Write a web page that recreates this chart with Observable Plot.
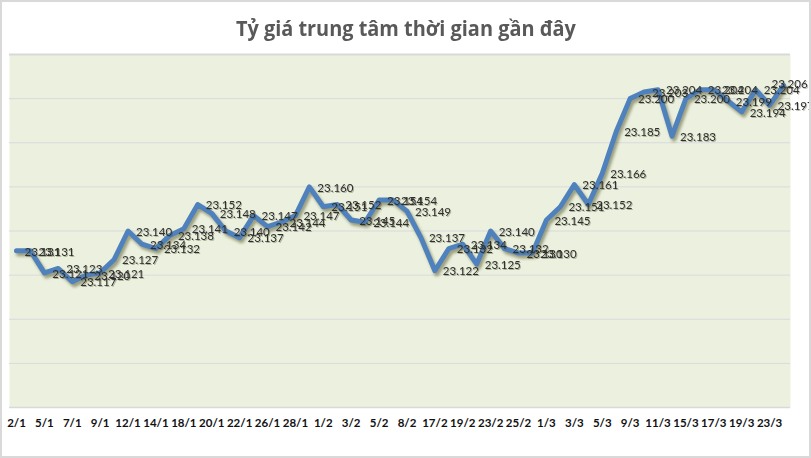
<!DOCTYPE html>
<html><head><meta charset="utf-8">
<script src="https://cdn.jsdelivr.net/npm/d3@7"></script>
<script src="https://cdn.jsdelivr.net/npm/@observablehq/plot@0.6"></script>
<style>
body{margin:0;background:#fff;}
#wrap{position:relative;width:811px;height:458px;overflow:hidden;background:#fff;}
#chart{position:absolute;left:0;top:0;}
#title{position:absolute;left:0;top:12px;width:811px;text-align:center;}
#title span{display:inline-block;font-family:"Open Sans","DejaVu Sans",sans-serif;font-weight:700;font-size:22px;color:#595959;transform-origin:50% 50%;white-space:nowrap;}
#border{position:absolute;left:0;top:0;width:811px;height:458px;box-sizing:border-box;border:2px solid #d9d9d9;pointer-events:none;}
</style></head><body>
<div id="wrap"><div id="chart"></div><div id="title"><span>Tỷ giá trung tâm thời gian gần đây</span></div><div id="border"></div></div>
<script>
// Visible category labels (every other data point)
const tickLabels = ["2/1","5/1","7/1","9/1","12/1","14/1","18/1","20/1","22/1","26/1","28/1","1/2","3/2","5/2","8/2","17/2","19/2","23/2","25/2","1/3","3/3","5/3","9/3","11/3","15/3","17/3","19/3","23/3"];
// Central rate values (VND/USD)
const rates = [23131,23131,23121,23123,23117,23120,23121,23127,23140,23134,23132,23138,23141,23152,23148,23140,23137,23147,23142,23144,23147,23160,23151,23152,23145,23144,23154,23154,23149,23137,23122,23132,23134,23125,23140,23132,23130,23130,23145,23151,23161,23152,23166,23185,23200,23203,23204,23183,23200,23204,23204,23199,23194,23204,23197,23206];
const yDomain = [23060, 23220];
const gridTicks = [23080, 23100, 23120, 23140, 23160, 23180, 23200];

const data = rates.map((v, i) => ({i, v}));
const idx = data.map(d => d.i);
const last = idx[idx.length - 1];
const fmt = v => d3.format(",")(v).replace(/,/g, ".");

const chart = Plot.plot({
  width: 811, height: 458,
  marginTop: 54, marginBottom: 51, marginLeft: 9, marginRight: 21,
  x: {type: "point", domain: idx, padding: 0.5, tickSize: 0, tickPadding: 11, label: null,
      tickFormat: i => i % 2 ? "" : tickLabels[i / 2]},
  y: {domain: yDomain, axis: null},
  style: {fontFamily: "Lato, 'Open Sans', sans-serif", fontSize: "11.5px", fontWeight: "bold", color: "#111", background: "transparent", overflow: "visible"},
  marks: [
    Plot.frame({fill: "#EBF1DE", stroke: null}),
    Plot.ruleY(gridTicks, {stroke: "#D9D9DE", strokeWidth: 1}),
    Plot.ruleY([yDomain[1]], {stroke: "#D9D9D9", strokeWidth: 2}),
    Plot.ruleY([yDomain[0]], {stroke: "#D9D9D9", strokeWidth: 1.5}),
    Plot.line(data, {x: "i", y: "v", stroke: "#4a4a1a", strokeOpacity: 0.5, strokeWidth: 5, dx: 2, dy: 3, strokeLinejoin: "round"}),
    Plot.line(data, {x: "i", y: "v", stroke: "#4F81BD", strokeWidth: 5, strokeLinejoin: "round"}),
    Plot.text(data.filter(d => d.i !== last), {x: "i", y: "v", text: d => fmt(d.v), textAnchor: "start", dx: 8, dy: 1, fill: "#2e2e2e", fontSize: 11.5, fontWeight: "normal"}),
    Plot.text(data.filter(d => d.i === last), {x: "i", y: "v", text: d => fmt(d.v), textAnchor: "middle", dx: 6, dy: -1, fill: "#2e2e2e", fontSize: 11.5, fontWeight: "normal"})
  ]
});
const lines = chart.querySelectorAll('g[aria-label="line"]');
if (lines.length) lines[0].style.filter = "blur(1.5px)";
chart.querySelectorAll('g[aria-label="text"]').forEach(g => g.style.filter = "drop-shadow(1px 1px 0.6px rgba(60,60,30,0.35))");
document.getElementById("chart").appendChild(chart);
// fit the title to the reference's width (~340px)
const span = document.querySelector("#title span");
const w = span.getBoundingClientRect().width;
if (w > 0) span.style.transform = `scaleX(${Math.min(1, 340 / w)})`;
</script>
</body></html>
